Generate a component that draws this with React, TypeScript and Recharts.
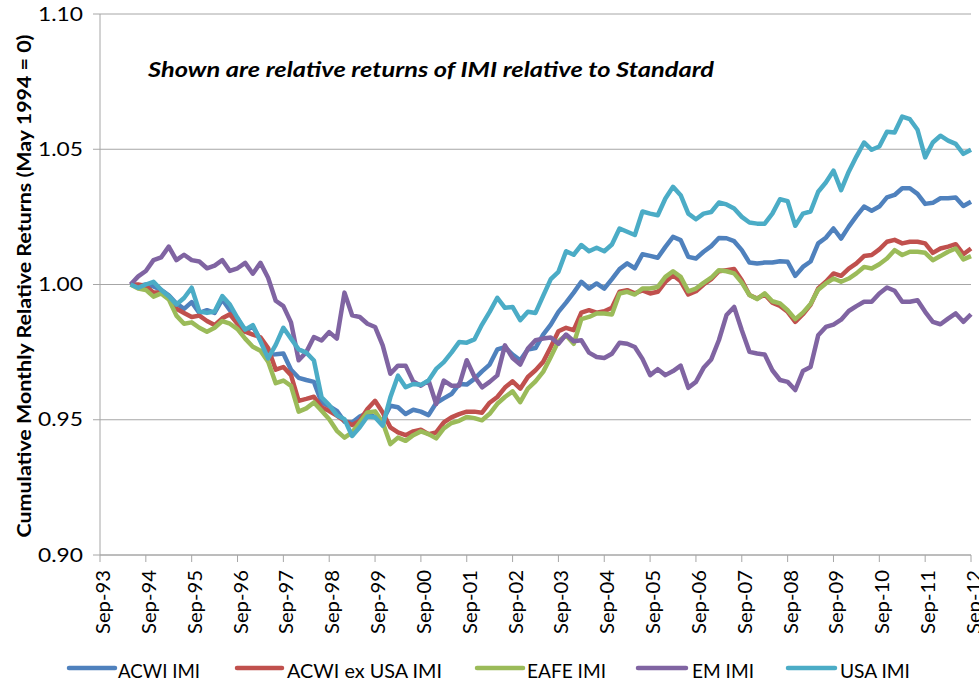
import React from "react";
import { LineChart, Line, XAxis, YAxis, CartesianGrid } from "recharts";

// Month offsets are counted from Sep-93 (offset 0). Data are sampled every 2 months from May-94.
const xTickLabels = [
  "Sep-93", "Sep-94", "Sep-95", "Sep-96", "Sep-97", "Sep-98", "Sep-99", "Sep-00", "Sep-01", "Sep-02",
  "Sep-03", "Sep-04", "Sep-05", "Sep-06", "Sep-07", "Sep-08", "Sep-09", "Sep-10", "Sep-11", "Sep-12",
];
const yTicks = [0.9, 0.95, 1.0, 1.05, 1.1];
const firstMonth = 8; // May-94
const monthStep = 2;

const seriesNames = ["ACWI IMI", "ACWI ex USA IMI", "EAFE IMI", "EM IMI", "USA IMI"];
const seriesKeys = ["acwi", "acwiExUsa", "eafe", "em", "usa"];
const seriesColors = ["#4F81BD", "#C0504D", "#9BBB59", "#8064A2", "#4BACC6"];

const acwiImi = [
  1.000, 0.9995, 1.000, 0.9993, 0.998, 0.996, 0.993, 0.991, 0.9935, 0.9895,
  0.9905, 0.9895, 0.9945, 0.9905, 0.9875, 0.9827, 0.9845, 0.9795, 0.974, 0.9742,
  0.9745, 0.9685, 0.9655, 0.9647, 0.964, 0.9564, 0.955, 0.9533, 0.9493, 0.949,
  0.9512, 0.9525, 0.9509, 0.9496, 0.9552, 0.9546, 0.9521, 0.9537, 0.953, 0.9517,
  0.9562, 0.9579, 0.9595, 0.9632, 0.963, 0.9651, 0.9679, 0.9704, 0.976, 0.9768,
  0.9741, 0.972, 0.976, 0.9765, 0.9815, 0.9852, 0.9899, 0.9933, 0.997, 1.001,
  0.9985, 1.0004, 0.9985, 1.002, 1.0057, 1.0078, 1.006, 1.0112, 1.0106, 1.0099,
  1.0139, 1.0176, 1.0164, 1.0102, 1.0096, 1.0121, 1.0142, 1.0172, 1.0171, 1.016,
  1.0127, 1.0081, 1.0078, 1.0081, 1.0081, 1.0086, 1.0084, 1.0032, 1.0065, 1.0085,
  1.0152, 1.0173, 1.0207, 1.017, 1.0214, 1.0253, 1.0288, 1.0273, 1.0288, 1.0322,
  1.0331, 1.0356, 1.0356, 1.0335, 1.0298, 1.0302, 1.0319, 1.0319, 1.0322, 1.029,
  1.0306,
];

const acwiExUsaImi = [
  1.000, 1.000, 0.9995, 0.997, 0.997, 0.995, 0.991, 0.9895, 0.988, 0.9885,
  0.9865, 0.985, 0.9875, 0.989, 0.9855, 0.9826, 0.9815, 0.9805, 0.9765, 0.9685,
  0.9695, 0.9665, 0.957, 0.9577, 0.9585, 0.9546, 0.9532, 0.9515, 0.9496, 0.948,
  0.9496, 0.954, 0.957, 0.9527, 0.9472, 0.9453, 0.9443, 0.9457, 0.9463, 0.9447,
  0.9453, 0.949, 0.9509, 0.9521, 0.953, 0.953, 0.9526, 0.9563, 0.9584, 0.9619,
  0.9642, 0.9615, 0.9658, 0.9683, 0.9714, 0.9769, 0.9827, 0.984, 0.9831, 0.9896,
  0.9905, 0.9896, 0.9901, 0.9914, 0.9973, 0.9979, 0.9967, 0.9978, 0.9967, 0.9973,
  1.001, 1.0034, 1.0012, 0.9963, 0.9975, 1.000, 1.002, 1.0049, 1.0053, 1.0057,
  1.0016, 0.9961, 0.9948, 0.9963, 0.9933, 0.9921, 0.9899, 0.9862, 0.989, 0.9925,
  0.9985, 1.001, 1.0041, 1.0032, 1.0059, 1.0078, 1.0105, 1.0109, 1.013, 1.0158,
  1.0165, 1.0152, 1.0158, 1.0158, 1.0152, 1.0117, 1.0133, 1.014, 1.0149, 1.0112,
  1.0133,
];

const eafeImi = [
  1.000, 0.9985, 0.998, 0.9955, 0.9967, 0.9945, 0.9885, 0.9855, 0.986, 0.984,
  0.9825, 0.984, 0.9865, 0.9855, 0.9835, 0.980, 0.977, 0.9755, 0.9715, 0.9635,
  0.9645, 0.9625, 0.953, 0.9542, 0.9564, 0.9533, 0.9502, 0.9459, 0.9434, 0.9453,
  0.949, 0.9527, 0.9531, 0.949, 0.941, 0.9434, 0.9422, 0.9443, 0.9457, 0.9447,
  0.9431, 0.9468, 0.9488, 0.9496, 0.951, 0.9506, 0.9498, 0.9522, 0.9559, 0.9584,
  0.9605, 0.9565, 0.9615, 0.9642, 0.9677, 0.9732, 0.979, 0.9812, 0.9781, 0.9872,
  0.988, 0.9893, 0.9893, 0.9889, 0.9967, 0.9973, 0.9963, 0.9985, 0.9985, 0.9991,
  1.0028, 1.0049, 1.0028, 0.9975, 0.9985, 1.0006, 1.0025, 1.0053, 1.0049, 1.0041,
  1.0007, 0.9961, 0.9946, 0.9967, 0.9938, 0.993, 0.9905, 0.9872, 0.9896, 0.9928,
  0.9981, 1.0004, 1.0022, 1.001, 1.0022, 1.0041, 1.0065, 1.0059, 1.0075, 1.0096,
  1.0127, 1.0109, 1.0121, 1.0121, 1.0117, 1.009, 1.0105, 1.0121, 1.0133, 1.0093,
  1.0105,
];

const emImi = [
  1.000, 1.003, 1.005, 1.009, 1.010, 1.014, 1.009, 1.011, 1.009, 1.0085,
  1.006, 1.007, 1.009, 1.005, 1.006, 1.008, 1.004, 1.008, 1.0025, 0.994,
  0.992, 0.986, 0.972, 0.975, 0.9806, 0.9793, 0.9824, 0.980, 0.997, 0.9886,
  0.988, 0.9855, 0.9843, 0.9775, 0.967, 0.970, 0.970, 0.9641, 0.9626, 0.9645,
  0.9558, 0.9645, 0.9626, 0.9626, 0.972, 0.966, 0.962, 0.964, 0.9664, 0.9775,
  0.9728, 0.9704, 0.9763, 0.9794, 0.980, 0.9804, 0.9781, 0.9815, 0.979, 0.9794,
  0.9748, 0.9732, 0.9728, 0.9744, 0.9785, 0.9781, 0.9769, 0.9725, 0.9665, 0.9687,
  0.9665, 0.968, 0.970, 0.9618, 0.964, 0.9692, 0.9723, 0.9794, 0.9887, 0.9917,
  0.9831, 0.9751, 0.9745, 0.9741, 0.9683, 0.9647, 0.964, 0.961, 0.968, 0.9695,
  0.9812, 0.9843, 0.9852, 0.987, 0.9902, 0.992, 0.9936, 0.9936, 0.9967, 0.9989,
  0.9977, 0.9936, 0.9936, 0.9942, 0.9899, 0.9862, 0.9853, 0.9874, 0.9893, 0.9862,
  0.989,
];

const usaImi = [
  1.000, 0.9988, 1.000, 1.001, 0.998, 0.9957, 0.9926, 0.995, 0.9988, 0.990,
  0.9895, 0.990, 0.9957, 0.9926, 0.9876, 0.9833, 0.985, 0.979, 0.9727, 0.9777,
  0.984, 0.980, 0.976, 0.9748, 0.9719, 0.9583, 0.9554, 0.9517, 0.9502, 0.944,
  0.9472, 0.9512, 0.9509, 0.9478, 0.9583, 0.9663, 0.962, 0.9632, 0.9629, 0.9645,
  0.9688, 0.9713, 0.9748, 0.9787, 0.9785, 0.9797, 0.9852, 0.9899, 0.9951, 0.9914,
  0.9917, 0.9868, 0.9899, 0.9895, 0.9958, 1.002, 1.0047, 1.0123, 1.011, 1.0146,
  1.0123, 1.0136, 1.0123, 1.0148, 1.0207, 1.0195, 1.0183, 1.027, 1.0262, 1.0256,
  1.0318, 1.0361, 1.033, 1.0262, 1.0241, 1.0262, 1.0268, 1.0303, 1.0296, 1.0281,
  1.025, 1.0229, 1.0225, 1.0225, 1.0262, 1.0315, 1.0308, 1.0217, 1.0262, 1.027,
  1.0343, 1.0377, 1.0421, 1.0349, 1.0417, 1.0473, 1.0525, 1.0498, 1.051, 1.0565,
  1.0562, 1.0621, 1.0611, 1.0572, 1.047, 1.0525, 1.055, 1.0532, 1.052, 1.0483,
  1.0498,
];

const seriesValues = [acwiImi, acwiExUsaImi, eafeImi, emImi, usaImi];

const rows = acwiImi.map((_, i) => {
  const row: Record<string, number> = { month: firstMonth + i * monthStep };
  seriesKeys.forEach((k, s) => {
    row[k] = seriesValues[s][i];
  });
  return row;
});

const xTicks = xTickLabels.map((_, i) => i * 12);

const FONT = "Lato, 'Open Sans', sans-serif";
const GRID = "#a6a6a6";

function XTick(props: any) {
  const { x, y, payload } = props;
  const label = xTickLabels[Math.round(payload.value / 12)];
  return (
    <text
      transform={`translate(${x + 10},${y + 6}) rotate(-90)`}
      textAnchor="end"
      fontSize={19}
      fontFamily={FONT}
      textLength={64}
      lengthAdjust="spacingAndGlyphs"
      fill="#000"
    >
      {label}
    </text>
  );
}

function YTick(props: any) {
  const { x, y, payload } = props;
  return (
    <text
      x={x}
      y={y}
      dy="0.355em"
      textAnchor="end"
      fontSize={19}
      fontFamily={FONT}
      textLength={45}
      lengthAdjust="spacingAndGlyphs"
      fill="#000"
    >
      {Number(payload.value).toFixed(2)}
    </text>
  );
}

// legend layout: swatch start/end and text start/width
const legendLayout = [
  { x1: 69, x2: 115, tx: 118, tw: 82 },
  { x1: 237, x2: 282, tx: 287, tw: 155 },
  { x1: 477, x2: 523, tx: 527, tw: 79 },
  { x1: 638, x2: 686, tx: 692, tw: 62 },
  { x1: 788, x2: 835, tx: 840, tw: 70 },
];

export default function App() {
  return (
    <div style={{ position: "absolute", left: 0, top: 0, width: 979, height: 684, background: "#fff" }}>
      <LineChart width={979} height={684} data={rows} margin={{ top: 14, right: 8, left: 40, bottom: 49 }}>
        <CartesianGrid vertical={false} stroke={GRID} />
        <XAxis
          dataKey="month"
          type="number"
          domain={[0, 228]}
          ticks={xTicks}
          interval={0}
          height={80}
          tickSize={7}
          axisLine={{ stroke: GRID }}
          tickLine={{ stroke: GRID }}
          tick={XTick}
        />
        <YAxis
          type="number"
          domain={[0.9, 1.1]}
          ticks={yTicks}
          width={60}
          tickSize={7}
          tickMargin={10}
          axisLine={{ stroke: GRID }}
          tickLine={{ stroke: GRID }}
          tick={YTick}
        />
        {seriesKeys.map((k, s) => (
          <Line
            key={k}
            type="linear"
            dataKey={k}
            name={seriesNames[s]}
            stroke={seriesColors[s]}
            strokeWidth={4.5}
            strokeLinejoin="round"
            dot={false}
            activeDot={false}
            isAnimationActive={false}
          />
        ))}
      </LineChart>
      <svg width={979} height={684} style={{ position: "absolute", left: 0, top: 0, pointerEvents: "none" }}>
        <text
          x={148}
          y={76.5}
          fontFamily={FONT}
          fontWeight="bold"
          fontStyle="italic"
          fontSize={20}
          textLength={566}
          lengthAdjust="spacingAndGlyphs"
          fill="#000"
        >
          Shown are relative returns of IMI relative to Standard
        </text>
        <text
          transform="translate(31,286) rotate(-90)"
          textAnchor="middle"
          fontFamily={FONT}
          fontWeight="bold"
          fontSize={19}
          textLength={503}
          lengthAdjust="spacingAndGlyphs"
          fill="#000"
        >
          Cumulative Monthly Relative Returns (May 1994 = 0)
        </text>
        {legendLayout.map((l, s) => (
          <g key={seriesKeys[s]}>
            <line x1={l.x1} x2={l.x2} y1={668} y2={668} stroke={seriesColors[s]} strokeWidth={4.5} strokeLinecap="round" />
            <text
              x={l.tx}
              y={678}
              fontFamily={FONT}
              fontSize={19}
              textLength={l.tw}
              lengthAdjust="spacingAndGlyphs"
              fill="#000"
            >
              {seriesNames[s]}
            </text>
          </g>
        ))}
      </svg>
    </div>
  );
}
